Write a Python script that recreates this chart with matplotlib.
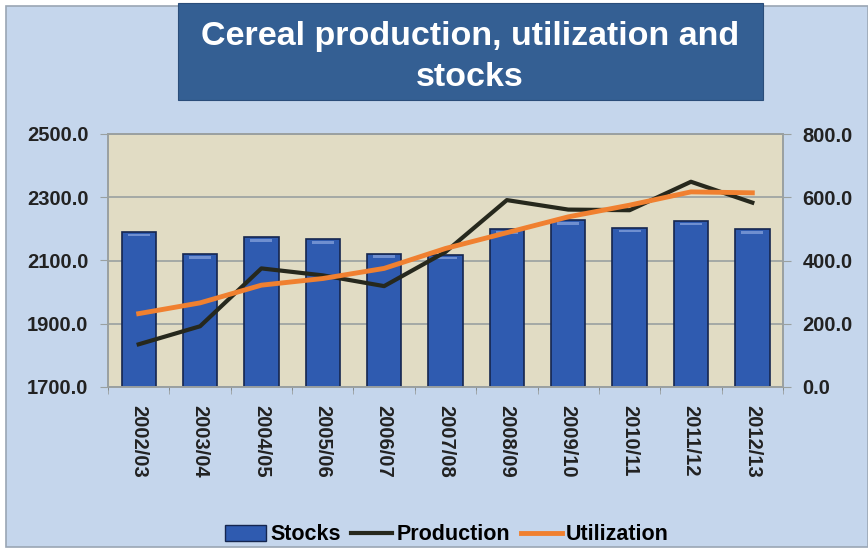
import matplotlib
matplotlib.use("Agg")
import matplotlib.pyplot as plt
from matplotlib.patches import Rectangle
import numpy as np

plt.rcParams['font.family'] = ['Liberation Sans', 'DejaVu Sans']

years = ["2002/03", "2003/04", "2004/05", "2005/06", "2006/07", "2007/08",
         "2008/09", "2009/10", "2010/11", "2011/12", "2012/13"]
stocks = [490, 419, 473, 467, 422, 418, 499, 527, 503, 526, 499]
production = [1835, 1892, 2075, 2053, 2019, 2127, 2291, 2261, 2259, 2349, 2283]
utilization = [1932, 1966, 2022, 2043, 2075, 2138, 2188, 2238, 2275, 2317, 2314]
left_ticks = [1700, 1900, 2100, 2300, 2500]
right_ticks = [0, 200, 400, 600, 800]

W, H = 868, 549
fig = plt.figure(figsize=(W/100, H/100), dpi=100)
fig.patch.set_facecolor('white')

# background panel
fig.patches.append(Rectangle((6/W, 2/H), (W-6)/W, 1-8/H, transform=fig.transFigure,
                             facecolor='#c5d6ec', edgecolor='#9aa6b4', lw=1.2, zorder=-5))
# title box
fig.patches.append(Rectangle((178/W, 1-100/H), (763-178)/W, (97)/H, transform=fig.transFigure,
                             facecolor='#345f93', edgecolor='#2a4d7a', lw=0.8, zorder=-4))
fig.text(470/W, 1-57/H, "Cereal production, utilization and\nstocks", ha='center', va='center',
         color='white', fontsize=24.5, fontweight='bold', linespacing=1.42, zorder=5)

ax2 = fig.add_axes([108/W, 1-387/H, (783-108)/W, (387-134)/H], zorder=1)
ax = fig.add_axes([108/W, 1-387/H, (783-108)/W, (387-134)/H], zorder=2, sharex=ax2)
ax2.set_facecolor('#e1dcc4')
ax.patch.set_visible(False)
ax2.yaxis.tick_right()

x = np.arange(len(years))
ax2.bar(x, stocks, width=0.56, color='#2f5bb0', edgecolor='#15264f', linewidth=1.2, zorder=2)
# highlight on bar tops
ax2.bar(x, [8]*len(x), bottom=np.array(stocks)-14, width=0.36, color='#6f8fd0', linewidth=0, zorder=3)

ax.plot(x, production, color='#26281d', lw=3, zorder=4)
ax.plot(x, utilization, color='#f08030', lw=3.5, zorder=5)

ax.set_xlim(-0.5, len(years)-0.5)
ax.set_ylim(1700, 2500)
ax2.set_ylim(0, 800)
ax.set_yticks(left_ticks)
ax.set_yticklabels([f"{v:.1f}" for v in left_ticks], fontsize=14.5, fontweight='bold', color='#222222')
ax2.set_yticks(right_ticks)
ax2.set_yticklabels([f"{v:.1f}" for v in right_ticks], fontsize=14.5, fontweight='bold', color='#222222')
for t in right_ticks:
    ax2.axhline(t, color='#9aa0a0', lw=1.2, zorder=1)
ax.set_xticks(x)
ax.set_xticklabels(years, rotation=270, fontsize=14.5, fontweight='bold', color='#222222')
ax.set_xticks(np.arange(-0.5, len(years)), minor=True)
ax.tick_params(axis='x', which='major', length=0, pad=13)
ax.tick_params(axis='x', which='minor', length=5, color='#9aa0a0')
ax.tick_params(axis='y', length=6, color='#9aa0a0', pad=8)
ax2.tick_params(axis='y', length=6, color='#9aa0a0', pad=8)
ax2.tick_params(axis='x', length=0, labelbottom=False)
for a in (ax, ax2):
    for s in a.spines.values():
        s.set_color('#9aa0a0')
        s.set_linewidth(1.2)

# legend
from matplotlib.lines import Line2D
from matplotlib.patches import Patch
handles = [Patch(facecolor='#2f5bb0', edgecolor='#15264f'),
           Line2D([0], [0], color='#26281d', lw=3),
           Line2D([0], [0], color='#f08030', lw=3.5)]
fig.legend(handles, ["Stocks", "Production", "Utilization"], loc='center',
           bbox_to_anchor=(447/W, 1-535/H), ncol=3, frameon=False,
           prop={'weight': 'bold', 'size': 15.5}, handlelength=1.9, handletextpad=0.2,
           columnspacing=0.5, handleheight=0.7)

fig.savefig("out.png", dpi=100, facecolor=fig.get_facecolor())
